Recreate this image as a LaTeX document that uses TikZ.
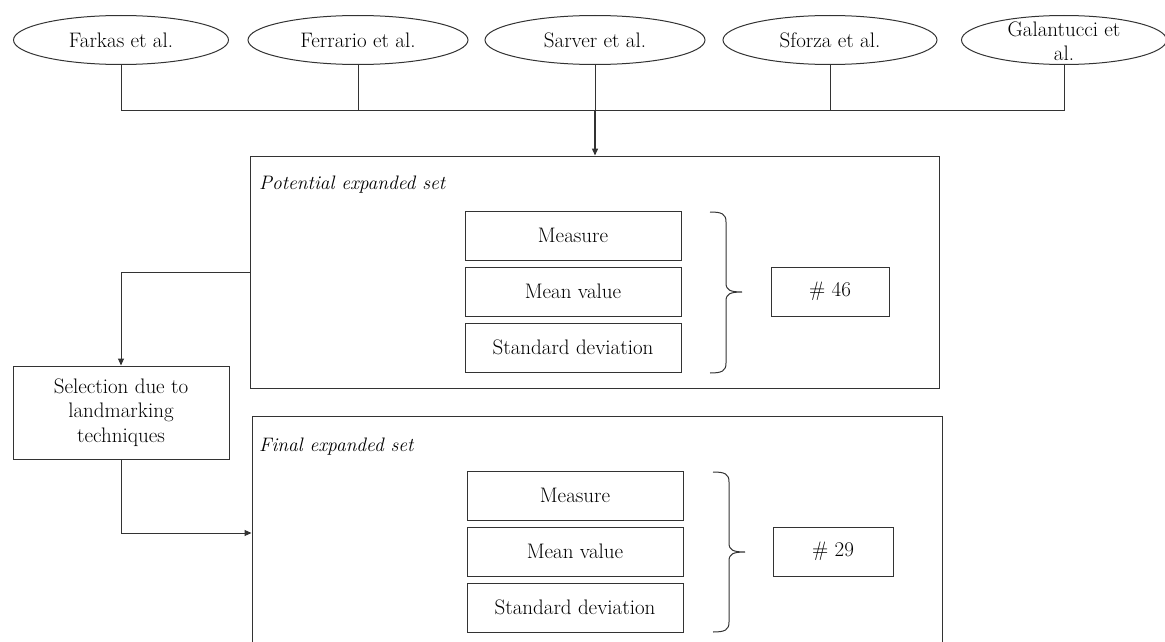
\documentclass[tikz,border=0pt]{standalone}
\usetikzlibrary{shapes.geometric,arrows.meta}
\begin{document}
\begin{tikzpicture}[x=1pt,y=-1pt,
  font=\fontsize{21}{24.5}\selectfont,
  line/.style={draw=black!80, line width=1pt},
  ell/.style={ellipse, line, minimum height=49pt, inner sep=0pt},
  cell/.style={rectangle, line, minimum width=216pt, minimum height=49pt, inner sep=0pt},
  frame/.style={rectangle, line, inner sep=0pt},
  arr/.style={-{Triangle[length=7pt,width=6pt]}},
  lab/.style={anchor=west, inner sep=0pt, font=\fontsize{19.5}{24.5}\selectfont\itshape}]
\useasboundingbox (0,0) rectangle (1165,642);

% source ellipses
\node[ell, minimum width=215pt] (farkas)   at (121,40) {Farkas et al.};
\node[ell, minimum width=220pt] (ferrario) at (358,40) {Ferrario et al.};
\node[ell, minimum width=220pt] (sarver)   at (595,40) {Sarver et al.};
\node[ell, minimum width=214pt] (sforza)   at (830,40) {Sforza et al.};
\node[ell, minimum width=205pt] (gal)      at (1064,40) {};
\node[align=center, inner sep=0pt] (galtext) at (1064,41) {Galantucci et\\al.};

% frames
\node[frame, minimum width=689pt, minimum height=232pt] (box1) at (594.5,272) {};
\node[frame, minimum width=690pt, minimum height=234pt] (box2) at (597,533) {};
\node[lab] (plab) at (259,185) {Potential expanded set};
\node[lab] (flab) at (259,447) {Final expanded set};

% bus
\coordinate (bus) at (595,110);
\draw[line] (farkas.south) |- (gal.south |- bus) -- (gal.south);
\draw[line] (ferrario.south) -- (ferrario.south |- bus);
\draw[line] (sforza.south) -- (sforza.south |- bus);
\draw[line] (sarver.south) -- (bus);
\draw[line, arr, line width=1.4pt] (bus) -- (sarver.south |- box1.north);

% selection box
\node[cell, minimum height=93pt, align=center] (sel) at (121,412.5) {Selection due to\\landmarking\\techniques};
\draw[line, arr] (box1.west) -| (sel.north);
\draw[line, arr] (sel.south) |- (box2.west);

% box 1 contents
\node[cell] (m1) at (573,235.5) {Measure};
\node[cell] (v1) at (573,291.5) {Mean value};
\node[cell] (s1) at (573,347.5) {Standard deviation};
\node[cell, minimum width=118pt] (n1) at (830,291.5) {\# 46};
\draw[line] (710,212) .. controls (722,212) and (726,214) .. (726,222) -- (726,283)
  .. controls (726,290) and (730,292) .. (742,292)
  .. controls (730,292) and (726,294) .. (726,301) -- (726,363)
  .. controls (726,371) and (722,373) .. (710,373);

% box 2 contents
\node[cell] (m2) at (575,495.5) {Measure};
\node[cell] (v2) at (575,551.5) {Mean value};
\node[cell] (s2) at (575,607.5) {Standard deviation};
\node[cell, minimum width=120pt] (n2) at (833,551.5) {\# 29};
\draw[line] (713,472) .. controls (725,472) and (729,474) .. (729,482) -- (729,543)
  .. controls (729,550) and (733,552) .. (745,552)
  .. controls (733,552) and (729,554) .. (729,561) -- (729,622)
  .. controls (729,630) and (725,632) .. (713,632);
\end{tikzpicture}
\end{document}
